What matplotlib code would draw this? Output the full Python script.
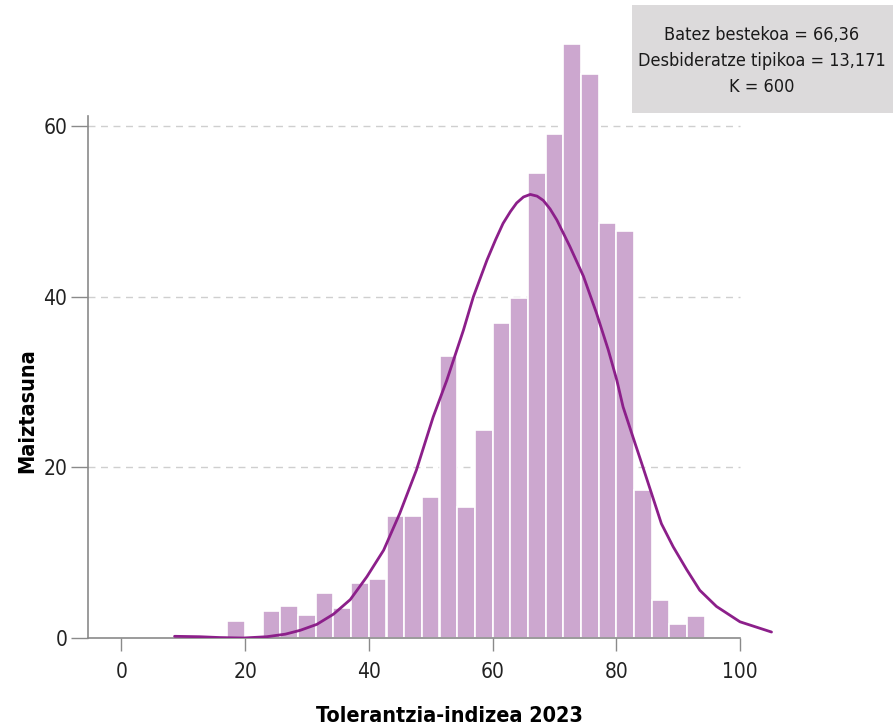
import matplotlib
matplotlib.use('Agg')
import matplotlib.pyplot as plt

# Histogram bins (left edge of each bar) and heights
bin_width = 2.857
bin_start = [8.57, 11.43, 14.29, 17.14, 20.00, 22.86, 25.71, 28.57, 31.43, 34.29,
             37.14, 40.00, 42.86, 45.71, 48.57, 51.43, 54.29, 57.14, 60.00, 62.86,
             65.71, 68.57, 71.43, 74.29, 77.14, 80.00, 82.86, 85.71, 88.57, 91.43]
freq = [0.2, 0.25, 0.25, 2.0, 0.0, 3.2, 3.8, 2.7, 5.3, 3.5,
        6.4, 6.9, 14.3, 14.3, 16.5, 33.1, 15.4, 24.4, 36.9, 39.9,
        54.5, 59.1, 69.6, 66.1, 48.7, 47.7, 17.3, 4.5, 1.7, 2.6]

# Normal curve points
curve_x = [8.6, 12.7, 16.0, 19.7, 23.5, 26.5, 28.9, 31.6, 34.3, 37.0, 39.7, 42.4,
           45.0, 47.7, 50.4, 52.6, 55.3, 56.9, 59.1, 60.5, 61.7, 62.9, 63.9, 65.0,
           66.1, 67.2, 68.2, 69.3, 70.4, 72.5, 74.7, 76.8, 78.7, 80.1, 81.1, 82.5,
           84.1, 85.5, 87.3, 89.2, 91.4, 93.5, 96.2, 100.0, 105.1]
curve_y = [0.2, 0.15, 0.05, 0.0, 0.15, 0.45, 0.9, 1.6, 2.8, 4.5, 7.2, 10.3,
           14.6, 19.7, 25.9, 30.2, 36.1, 40.0, 44.3, 46.7, 48.6, 50.0, 51.0, 51.7,
           52.0, 51.8, 51.3, 50.3, 49.0, 45.9, 42.4, 38.1, 33.8, 30.2, 27.1, 24.0,
           20.5, 17.4, 13.4, 10.7, 8.0, 5.6, 3.7, 1.9, 0.7]

x_ticks = [0, 20, 40, 60, 80, 100]
y_ticks = [0, 20, 40, 60]
stats_text = "Batez bestekoa = 66,36\nDesbideratze tipikoa = 13,171\nK = 600"

plt.rcParams['font.family'] = ['DejaVu Sans']
plt.rcParams['font.stretch'] = 'condensed'

fig = plt.figure(figsize=(8.93, 7.26), dpi=100)
ax = fig.add_axes([0.0985, 0.1212, 0.7717, 0.846])

x_left = -5.4
ax.set_xlim(x_left, 106)
ax.set_ylim(0, 72)

# dashed gridlines
ax.hlines([20, 40, 60], x_left, 100, colors='#cfcfcf', linestyles=(0, (5, 4)),
          linewidth=1.0, zorder=0)

ax.bar(bin_start, freq, width=bin_width, align='edge', color='#cca7cf',
       edgecolor='white', linewidth=1.2, zorder=2)
ax.plot(curve_x, curve_y, color='#8c1f8a', linewidth=2.0, zorder=3,
        solid_capstyle='round', solid_joinstyle='round')

for s in ['top', 'right']:
    ax.spines[s].set_visible(False)
for s in ['left', 'bottom']:
    ax.spines[s].set_color('#8a8a8a')
    ax.spines[s].set_linewidth(1.2)
ax.spines['left'].set_bounds(0, 61.2)
ax.spines['bottom'].set_bounds(x_left, 100)

ax.set_xticks(x_ticks)
ax.set_yticks(y_ticks)
ax.tick_params(axis='y', length=12, width=1.0, color='#8a8a8a', labelsize=15,
               pad=3, labelcolor='#222222')
ax.tick_params(axis='x', length=9, width=1.0, color='#8a8a8a', labelsize=15,
               pad=8, labelcolor='#222222')

ax.set_xlabel('Tolerantzia-indizea 2023', fontsize=15.5, fontweight='bold')
ax.set_ylabel('Maiztasuna', fontsize=15.5, fontweight='bold')
ax.xaxis.set_label_coords(0.524, -0.11)
ax.yaxis.set_label_coords(-0.074, 0.371)

fig.patches.append(plt.Rectangle((632 / 893, 1 - 113 / 726), (893 - 632) / 893,
                                 (113 - 5) / 726, transform=fig.transFigure,
                                 facecolor='#dcdadb', edgecolor='none'))
fig.text(762 / 893, 1 - 61 / 726, stats_text, ha='center', va='center',
         fontsize=13, linespacing=1.55, color='#1a1a1a')

fig.savefig('out.png', dpi=100)
